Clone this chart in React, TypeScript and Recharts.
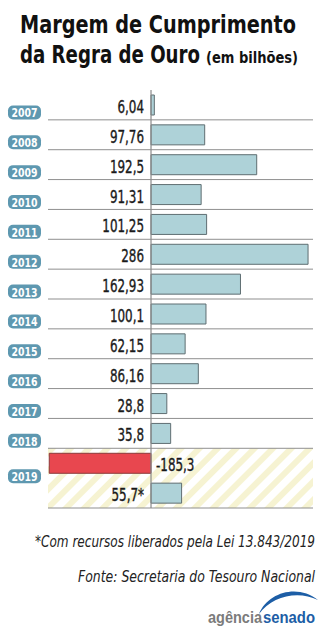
import React from "react";
import { BarChart, Bar, XAxis, YAxis, Cell, LabelList, ReferenceArea, ReferenceLine } from "recharts";

const rowKeys = ["2007", "2008", "2009", "2010", "2011", "2012", "2013", "2014", "2015", "2016", "2017", "2018", "2019", "2019*"];
const values = [6.04, 97.76, 192.5, 91.31, 101.25, 286, 162.93, 100.1, 62.15, 86.16, 28.8, 35.8, -185.3, 55.7];
const valueLabels = ["6,04", "97,76", "192,5", "91,31", "101,25", "286", "162,93", "100,1", "62,15", "86,16", "28,8", "35,8", "-185,3", "55,7*"];
const badgeLabels = ["2007", "2008", "2009", "2010", "2011", "2012", "2013", "2014", "2015", "2016", "2017", "2018", "2019", ""];
const separatorRows = ["2007", "2008", "2009", "2010", "2011", "2012", "2013", "2014", "2015", "2016", "2017", "2018", "2019*"];

const data = rowKeys.map((k, i) => ({ key: k, value: values[i], label: valueLabels[i], badge: badgeLabels[i] }));

const NARROW = "'DejaVu Sans Condensed', 'DejaVu Sans', sans-serif";
const BLUE = "#aed2d8";
const RED = "#e8474f";
const BADGE = "#5e98b0";

const YearTick = (props: any) => {
  const { y, payload } = props;
  const idx = rowKeys.indexOf(payload.value);
  const text = badgeLabels[idx];
  if (!text) return null;
  const isGroup = idx + 1 < rowKeys.length && !badgeLabels[idx + 1];
  const cy = y + (isGroup ? 13 : 7.5);
  return (
    <g>
      <rect x={8} y={cy - 7} width={33} height={14} rx={5} ry={5} fill={BADGE} />
      <text x={11.5} y={cy + 5} fill="#fff" fontFamily={NARROW} fontWeight="bold" fontSize={13} textLength={26} lengthAdjust="spacingAndGlyphs">
        {text}
      </text>
    </g>
  );
};

const ValueLabel = (props: any) => {
  const { x, y, width, height, index } = props;
  const v = values[index];
  const zero = v < 0 ? Math.max(x, x + width) : Math.min(x, x + width);
  const cy = y + height / 2;
  const tx = v < 0 ? zero + 5 : zero - 7;
  return (
    <text
      transform={`translate(${tx},${cy + 8}) scale(0.78,1)`}
      x={0}
      y={0}
      textAnchor={v < 0 ? "start" : "end"}
      fill="#1a1a1a"
      stroke="#1a1a1a"
      strokeWidth={0.35}
      fontFamily={NARROW}
      fontSize={17}
    >
      {valueLabels[index]}
    </text>
  );
};

const sepShape = (p: any) => (
  <line x1={p.x} x2={p.x + p.width} y1={p.y + p.height} y2={p.y + p.height} stroke="#8f8f8f" strokeWidth={1} />
);

export default function App() {
  return (
    <div style={{ position: "absolute", left: 0, top: 0, width: 321, height: 640, background: "#fff", overflow: "hidden" }}>
      <svg width={321} height={90} style={{ position: "absolute", left: 0, top: 0 }}>
        <text transform="translate(20,33) scale(1,1.2)" x={0} y={0} fontFamily={NARROW} fontWeight="bold" fontSize={20.5} fill="#111" textLength={276} lengthAdjust="spacingAndGlyphs">
          Margem de Cumprimento
        </text>
        <text transform="translate(20,63) scale(1,1.2)" x={0} y={0} fontFamily={NARROW} fontWeight="bold" fontSize={20.5} fill="#111" textLength={180} lengthAdjust="spacingAndGlyphs">
          da Regra de Ouro
        </text>
        <text transform="translate(206,63) scale(1,1.2)" x={0} y={0} fontFamily={NARROW} fontWeight="bold" fontSize={13} fill="#111" textLength={92} lengthAdjust="spacingAndGlyphs">
          (em bilhões)
        </text>
      </svg>
      <div style={{ position: "absolute", left: 0, top: 0 }}>
        <BarChart
          width={321}
          height={520}
          data={data}
          layout="vertical"
          margin={{ top: 90, right: 8, bottom: 12, left: 0 }}
          barSize={20}
        >
          <defs>
            <pattern id="hatch" patternUnits="userSpaceOnUse" width={13} height={13} patternTransform="rotate(45)">
              <rect x={0} y={0} width={13} height={13} fill="#ffffff" />
              <rect x={0} y={0} width={6} height={13} fill="#f6f3d2" />
            </pattern>
          </defs>
          <XAxis type="number" domain={[-187.6, 295]} allowDataOverflow hide />
          <YAxis type="category" dataKey="key" width={48} axisLine={false} tickLine={false} tick={<YearTick />} interval={0} />
          <ReferenceArea y1="2019" y2="2019*" fill="url(#hatch)" fillOpacity={1} stroke="none" ifOverflow="visible" />
          {separatorRows.map((k) => (
            <ReferenceArea key={k} y1={k} y2={k} shape={sepShape} ifOverflow="visible" />
          ))}
          <ReferenceLine x={0} stroke="#8a8a8a" strokeWidth={1.2} ifOverflow="visible" />
          <Bar dataKey="value" isAnimationActive={false} stroke="#5f6e72" strokeWidth={1}>
            {data.map((d, i) => (
              <Cell key={i} fill={d.value < 0 ? RED : BLUE} stroke={d.value < 0 ? "#8a3a3a" : "#5f6e72"} />
            ))}
            <LabelList dataKey="label" content={<ValueLabel />} />
          </Bar>
        </BarChart>
      </div>
      <svg width={321} height={120} style={{ position: "absolute", left: 0, top: 520 }}>
        <text transform="translate(315,27) scale(1,1.2)" x={0} y={0} textAnchor="end" fontFamily={NARROW} fontStyle="italic" fontSize={13} fill="#222" textLength={280} lengthAdjust="spacingAndGlyphs">
          *Com recursos liberados pela Lei 13.843/2019
        </text>
        <text transform="translate(315,62) scale(1,1.2)" x={0} y={0} textAnchor="end" fontFamily={NARROW} fontStyle="italic" fontSize={13} fill="#222" textLength={237} lengthAdjust="spacingAndGlyphs">
          Fonte: Secretaria do Tesouro Nacional
        </text>
        <path d="M 259 94 C 268 72, 298 64, 318 80 C 298 70, 272 76, 259 94 Z" fill="#1d5ea6" />
        <text x={208} y={103} fontFamily="'Liberation Sans', Arial, sans-serif" fontWeight="bold" fontSize={16} fill="#7b7b7b" textLength={54} lengthAdjust="spacingAndGlyphs">
          agência
        </text>
        <text x={263} y={103} fontFamily="'Liberation Sans', Arial, sans-serif" fontWeight="bold" fontSize={16} fill="#1d5ea6" textLength={52} lengthAdjust="spacingAndGlyphs">
          senado
        </text>
      </svg>
    </div>
  );
}
